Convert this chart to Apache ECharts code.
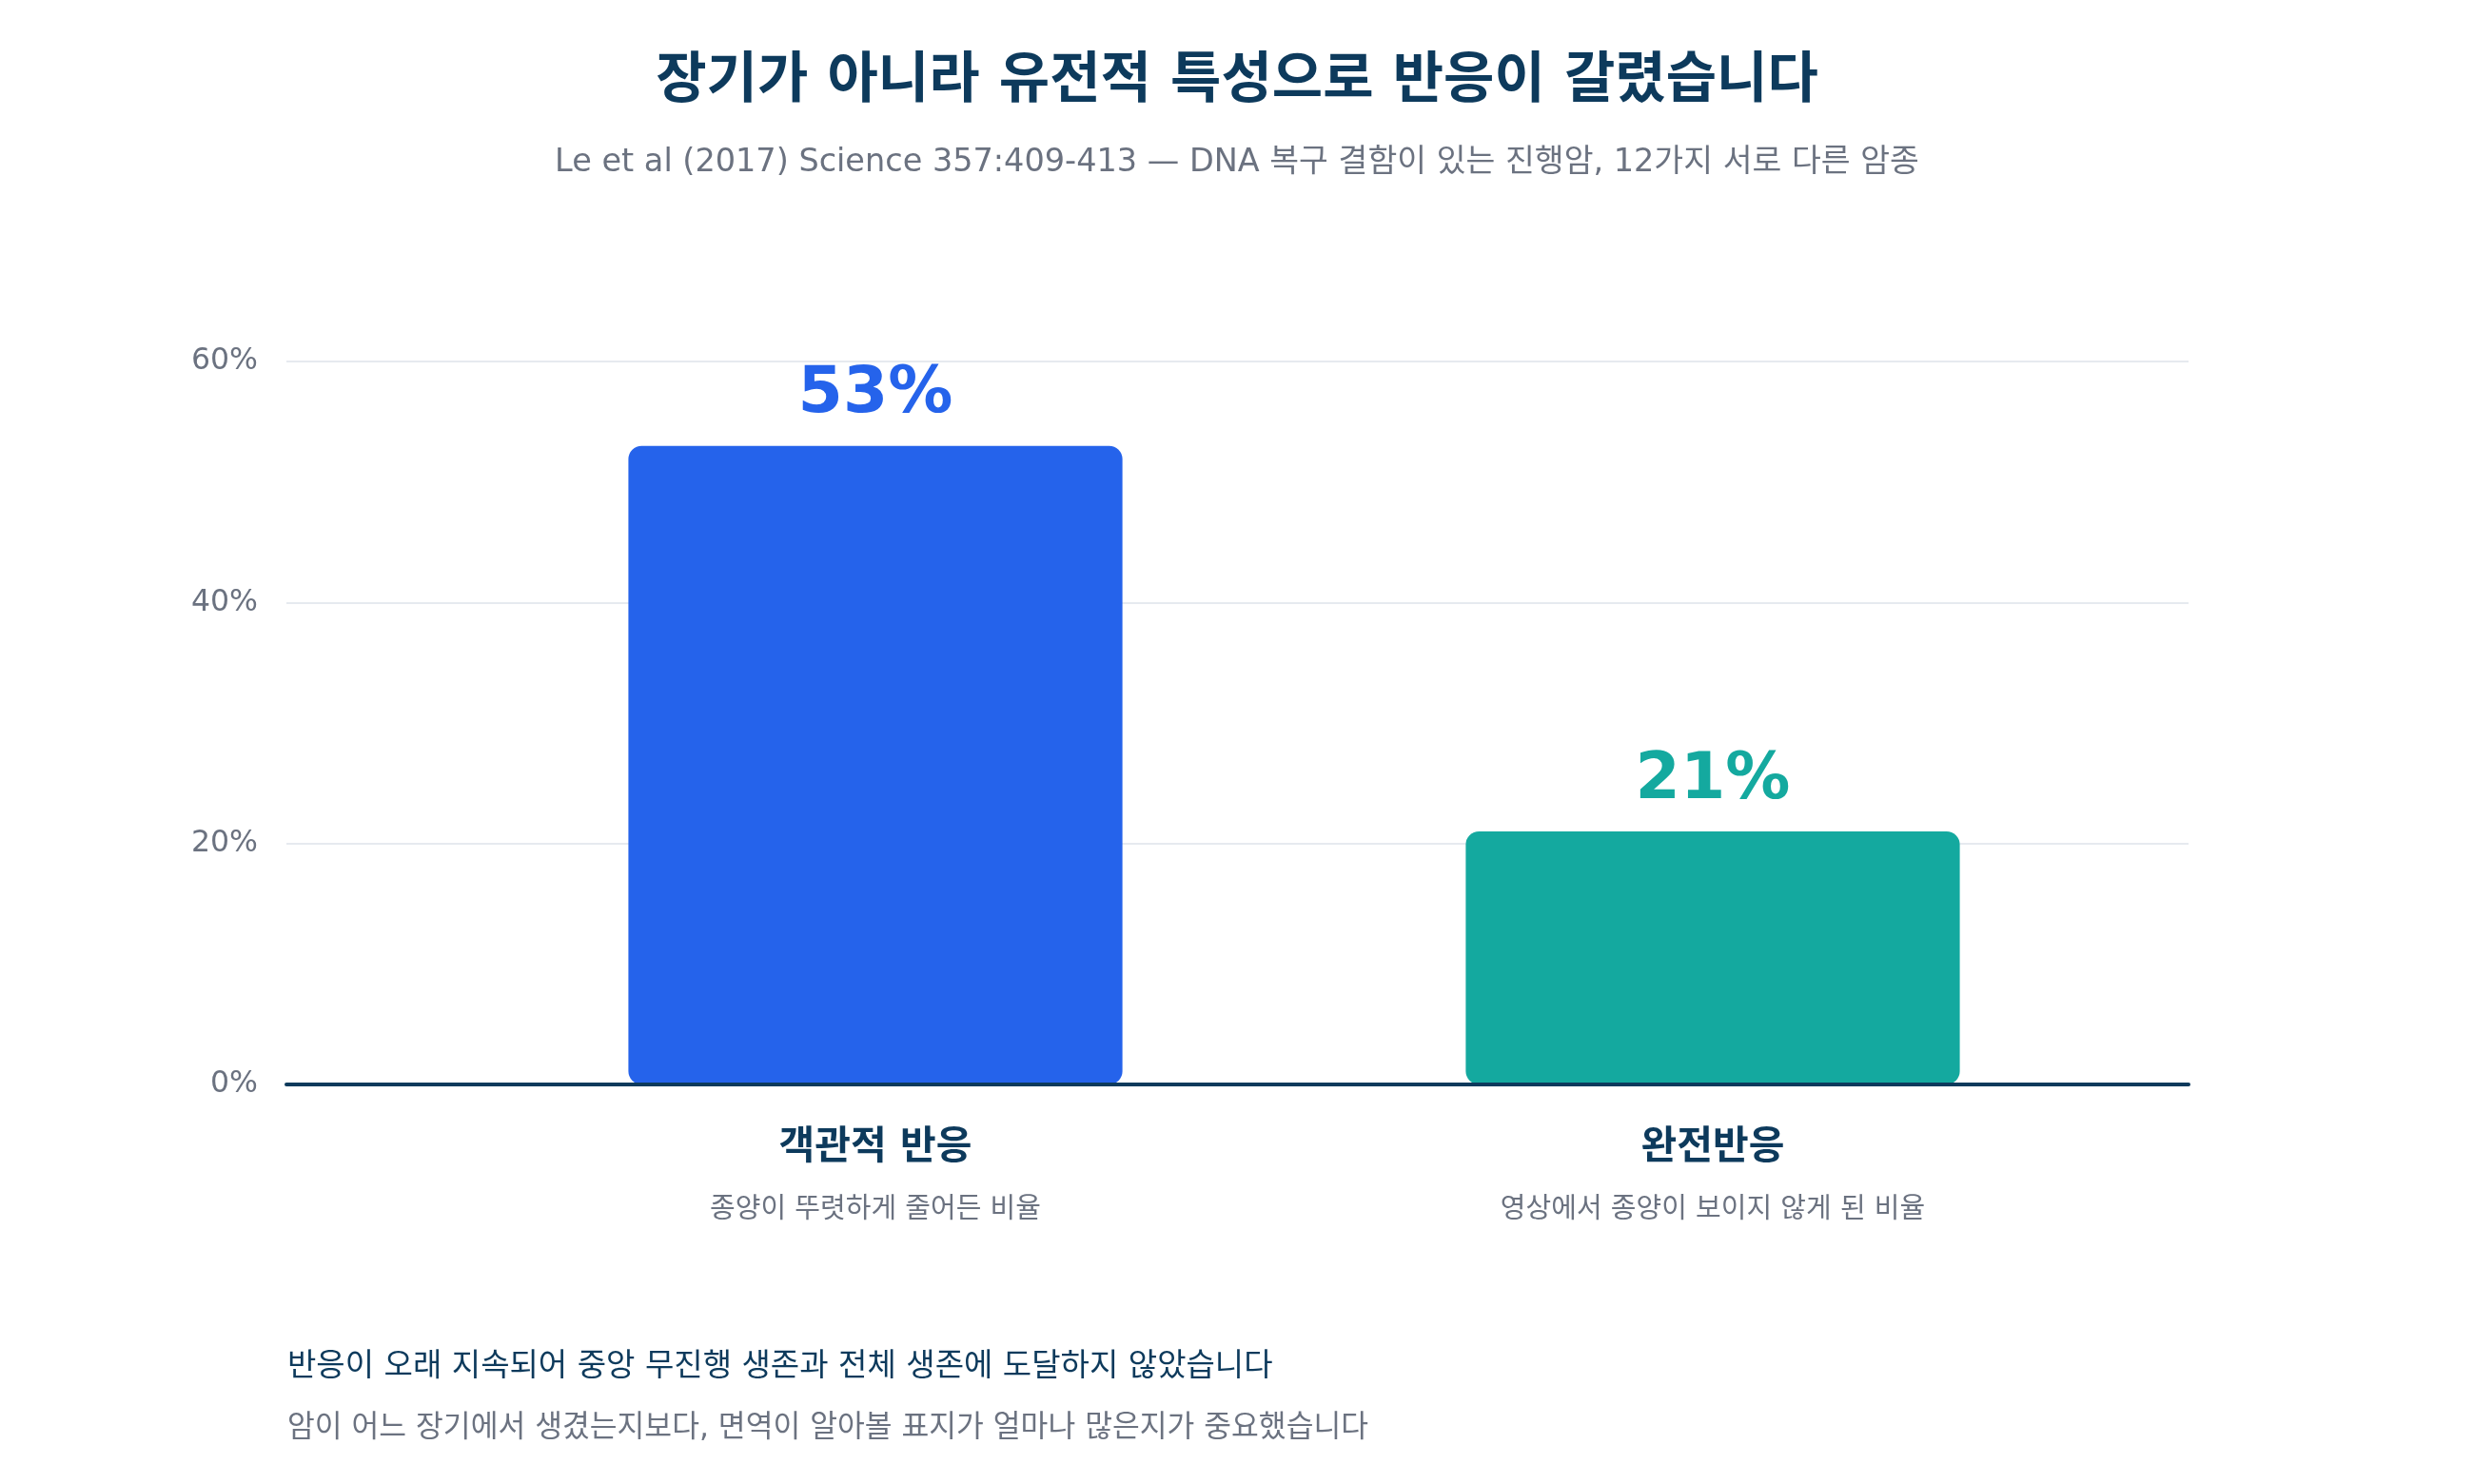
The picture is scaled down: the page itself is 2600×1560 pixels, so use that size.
<!DOCTYPE html>
<html>
<head>
<meta charset="utf-8">
<script src="https://cdn.jsdelivr.net/npm/echarts@6/dist/echarts.min.js"></script>
<style>
  html, body { margin: 0; padding: 0; background: #ffffff; }
  #chart { width: 2600px; height: 1560px; }
</style>
</head>
<body>
<div id="chart"></div>
<script>
// data
var categories = ['객관적 반응', '완전반응'];
var subLabels = ['종양이 뚜렷하게 줄어든 비율', '영상에서 종양이 보이지 않게 된 비율'];
var values = [53, 21];
var barColors = ['#2563eb', '#14a99f'];
var yTicks = [0, 20, 40, 60];

var FONT = "'DejaVu Sans', 'Noto Sans CJK KR', sans-serif";
var NAVY = '#0d3a5c';
var GRAY = '#6b7280';

var dom = document.getElementById('chart');
var myChart = echarts.init(dom, null, { renderer: 'canvas' });

var barData = values.map(function (v, i) {
    return {
        value: v,
        itemStyle: { color: barColors[i] },
        label: { color: barColors[i] }
    };
});

var option = {
    backgroundColor: '#ffffff',
    animation: false,
    title: [{
        text: '장기가 아니라 유전적 특성으로 반응이 갈렸습니다',
        left: 'center', top: 56, padding: 0,
        textStyle: { fontFamily: FONT, fontSize: 58, fontWeight: 'bold', color: NAVY, lineHeight: 62 }
    }, {
        text: 'Le et al (2017) Science 357:409-413 — DNA 복구 결함이 있는 진행암, 12가지 서로 다른 암종',
        left: 'center', top: 151, padding: 0,
        textStyle: { fontFamily: FONT, fontSize: 33.5, fontWeight: 'normal', color: GRAY, lineHeight: 40 }
    }, {
        text: '반응이 오래 지속되어 중앙 무진행 생존과 전체 생존에 도달하지 않았습니다',
        left: 302, top: 1416, padding: 0,
        textStyle: { fontFamily: FONT, fontSize: 33, fontWeight: 'normal', color: NAVY, lineHeight: 42 }
    }, {
        text: '암이 어느 장기에서 생겼는지보다, 면역이 알아볼 표지가 얼마나 많은지가 중요했습니다',
        left: 302, top: 1483, padding: 0,
        textStyle: { fontFamily: FONT, fontSize: 31.3, fontWeight: 'normal', color: GRAY, lineHeight: 38 }
    }],
    grid: [
        // axis frame
        { left: 301, right: 300, top: 380, bottom: 420 },
        // bars
        { left: 480, right: 360, top: 380, bottom: 420 }
    ],
    xAxis: [{
        gridIndex: 0,
        type: 'category',
        data: categories,
        axisLine: { show: true, lineStyle: { color: NAVY, width: 4 } },
        axisTick: { show: false },
        axisLabel: { show: false },
        z: 5
    }, {
        gridIndex: 1,
        type: 'category',
        data: categories,
        axisLine: { show: false },
        axisTick: { show: false },
        axisLabel: {
            margin: 36,
            formatter: function (val, idx) {
                return '{a|' + val + '}\n{b|' + subLabels[idx] + '}';
            },
            rich: {
                a: { fontFamily: FONT, fontSize: 41, fontWeight: 'bold', color: NAVY, lineHeight: 62 },
                b: { fontFamily: FONT, fontSize: 29, color: GRAY, lineHeight: 68 }
            }
        }
    }],
    yAxis: [{
        gridIndex: 0,
        type: 'value',
        min: yTicks[0],
        max: yTicks[yTicks.length - 1],
        interval: 20,
        axisLine: { show: false },
        axisTick: { show: false },
        axisLabel: {
            formatter: '{value}%',
            margin: 30,
            padding: [10, 0, 0, 0],
            fontFamily: FONT,
            fontSize: 31.5,
            color: GRAY
        },
        splitLine: { lineStyle: { color: '#e6eaef', width: 2 } }
    }, {
        gridIndex: 1,
        type: 'value',
        min: yTicks[0],
        max: yTicks[yTicks.length - 1],
        interval: 20,
        show: false,
        splitLine: { show: false }
    }],
    series: [{
        type: 'bar',
        xAxisIndex: 1,
        yAxisIndex: 1,
        barWidth: '59%',
        itemStyle: { borderRadius: 14 },
        label: {
            show: true,
            position: 'top',
            distance: 19,
            formatter: '{c}%',
            fontFamily: FONT,
            fontSize: 68,
            fontWeight: 'bold'
        },
        data: barData
    }]
};

if (option && typeof option === 'object') {
    myChart.setOption(option, true);
}
</script>
</body>
</html>
